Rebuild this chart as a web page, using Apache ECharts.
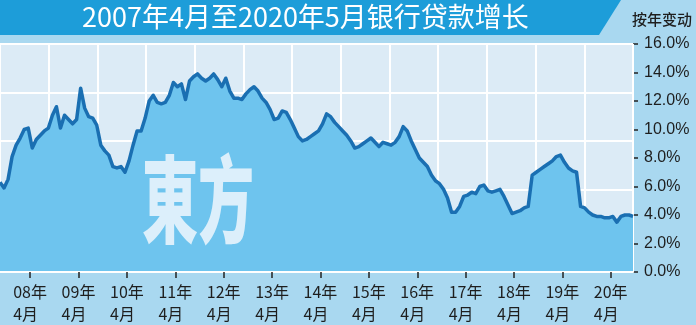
<!DOCTYPE html>
<html><head><meta charset="utf-8">
<script src="https://cdn.jsdelivr.net/npm/echarts@6/dist/echarts.min.js"></script>
<style>html,body{margin:0;padding:0;background:#a9d8f0}#c{width:696px;height:325px}</style>
</head><body><div id="c"></div>
<script>
// ---- data ----
const TITLE = '2007年4月至2020年5月银行贷款增长';
const UNIT_LABEL = '按年变动';
const START_YEAR = 2007, START_MONTH = 4;   // first month of the series
// year-on-year loan growth, % (monthly, Apr 2007 – May 2020)
const growth = [
 6.3,5.9,6.5,8.1,8.9,9.4,10.0,10.1,8.7,9.3,9.6,9.9,
 10.1,11.0,11.6,10.1,11.0,10.7,10.4,10.7,12.9,11.5,10.9,10.8,
 10.3,8.9,8.5,8.2,7.4,7.3,7.4,7.0,7.8,8.9,9.9,9.9,
 10.8,12.0,12.4,11.9,11.8,11.9,12.4,13.3,13.0,13.2,12.1,13.4,
 13.7,13.9,13.6,13.4,13.6,13.9,13.5,13.0,13.6,12.7,12.2,12.2,
 12.1,12.5,12.8,13.0,12.7,12.2,11.9,11.4,10.7,10.8,11.3,11.2,
 10.7,10.1,9.5,9.2,9.3,9.5,9.7,9.9,10.4,11.1,10.9,10.5,
 10.2,9.9,9.6,9.2,8.7,8.8,9.0,9.2,9.4,9.1,8.8,9.1,
 9.0,8.9,9.1,9.5,10.2,9.9,9.2,8.6,8.0,7.7,7.4,6.8,
 6.4,6.2,5.8,5.2,4.2,4.2,4.6,5.3,5.4,5.6,5.5,6.0,
 6.1,5.7,5.6,5.7,5.8,5.3,4.7,4.1,4.2,4.3,4.5,4.6,
 6.8,7.0,7.2,7.4,7.6,7.8,8.1,8.2,7.7,7.3,7.1,7.0,
 4.6,4.5,4.2,4.0,3.9,3.9,3.8,3.8,3.9,3.5,3.9,4.0,
 4.0,3.9
];
const yearTickLabels = ['08','09','10','11','12','13','14','15','16','17','18','19','20'];
const monthTickLabel = '4月';
const yTicks = {min: 0, max: 16, interval: 2};

// ---- build ----
const months = [];
for (let i = 0; i < growth.length; i++) {
  const m0 = START_MONTH - 1 + i;
  const y = START_YEAR + Math.floor(m0 / 12);
  const m = (m0 % 12) + 1;
  months.push(y + '-' + (m < 10 ? '0' : '') + m);
}
const TICK_SHIFT = 7.5; // where the first year label sits in the original artwork
const tickVals = yearTickLabels.map((_, k) => TICK_SHIFT + 12 * k);

const hidden = {axisLine: {show: false, onZero: false}, axisTick: {show: false}, axisLabel: {show: false}};

const chart = echarts.init(document.getElementById('c'));
chart.setOption({
  backgroundColor: '#a9d8f0',
  animation: false,
  grid: [
    {left: -1, right: 63, top: 44, bottom: 53, show: true, backgroundColor: '#dcebf6', borderColor: '#ffffff', borderWidth: 2},
    {left: -1, right: 63, top: 44, bottom: 53, show: false}
  ],
  xAxis: [
    Object.assign({type: 'category', gridIndex: 0, data: months, boundaryGap: false, splitLine: {show: false}}, hidden),
    {type: 'value', gridIndex: 0, min: 0, max: growth.length - 1, position: 'bottom', z: 5,
     axisLine: {show: true, onZero: false, lineStyle: {color: '#ffffff', width: 2}},
     axisTick: {show: true, customValues: tickVals, length: 6, lineStyle: {color: '#222', width: 1.5}},
     axisLabel: {show: true, customValues: tickVals, margin: 9,
       formatter: function (v) {
         const k = Math.round((v - TICK_SHIFT) / 12);
         return '{a|' + yearTickLabels[k] + '年}\n{a|' + monthTickLabel + '}';
       },
       rich: {a: {width: 34, align: 'left', fontSize: 16, lineHeight: 22, color: '#1e1e1e', fontFamily: 'Noto Sans CJK SC'}}
     },
     splitLine: {show: false}},
    Object.assign({type: 'value', gridIndex: 1, min: 0, max: 13, interval: 1, z: 1,
     splitLine: {show: true, lineStyle: {color: '#ffffff', width: 2}}}, hidden)
  ],
  yAxis: [
    {type: 'value', gridIndex: 0, position: 'right', min: yTicks.min, max: yTicks.max, interval: yTicks.interval,
     axisLine: {show: false, onZero: false},
     axisTick: {show: true, length: 5, lineStyle: {color: '#222', width: 1.5}},
     axisLabel: {margin: 11, fontSize: 16, color: '#1e1e1e', fontFamily: 'Liberation Sans',
       formatter: v => v.toFixed(1) + '%'},
     splitLine: {show: false}},
    Object.assign({type: 'value', gridIndex: 1, inverse: true, min: 0, max: 4.7, interval: 1, z: 1,
     splitLine: {show: true, lineStyle: {color: '#ffffff', width: 2}}}, hidden)
  ],
  series: [{
    type: 'line', xAxisIndex: 0, yAxisIndex: 0, data: growth, symbol: 'none', z: 3,
    lineStyle: {color: '#1a6fb2', width: 3.5, join: 'round'},
    areaStyle: {color: '#6ec4ee', opacity: 1}
  }],
  graphic: [
    {type: 'polygon', z: 10, shape: {points: [[0, 0], [621, 0], [599, 35], [0, 35]]}, style: {fill: '#1d9dd9'}},
    {type: 'text', z: 11, left: 82, top: 3, style: {text: TITLE, fill: '#ffffff', fontSize: 27, fontFamily: 'Noto Sans CJK SC'}},
    {type: 'text', z: 11, right: 4, top: 12, style: {text: UNIT_LABEL, fill: '#1e1e1e', fontSize: 15, fontWeight: 500, fontFamily: 'Noto Sans CJK SC'}},
    {type: 'text', z: 4, left: 142, top: 152, scaleX: 0.85, scaleY: 1.45,
     style: {text: '東方', fill: 'rgba(232,244,252,0.9)', fontSize: 66, fontWeight: 900, fontFamily: 'Noto Sans CJK TC'}}
  ]
});
</script></body></html>
